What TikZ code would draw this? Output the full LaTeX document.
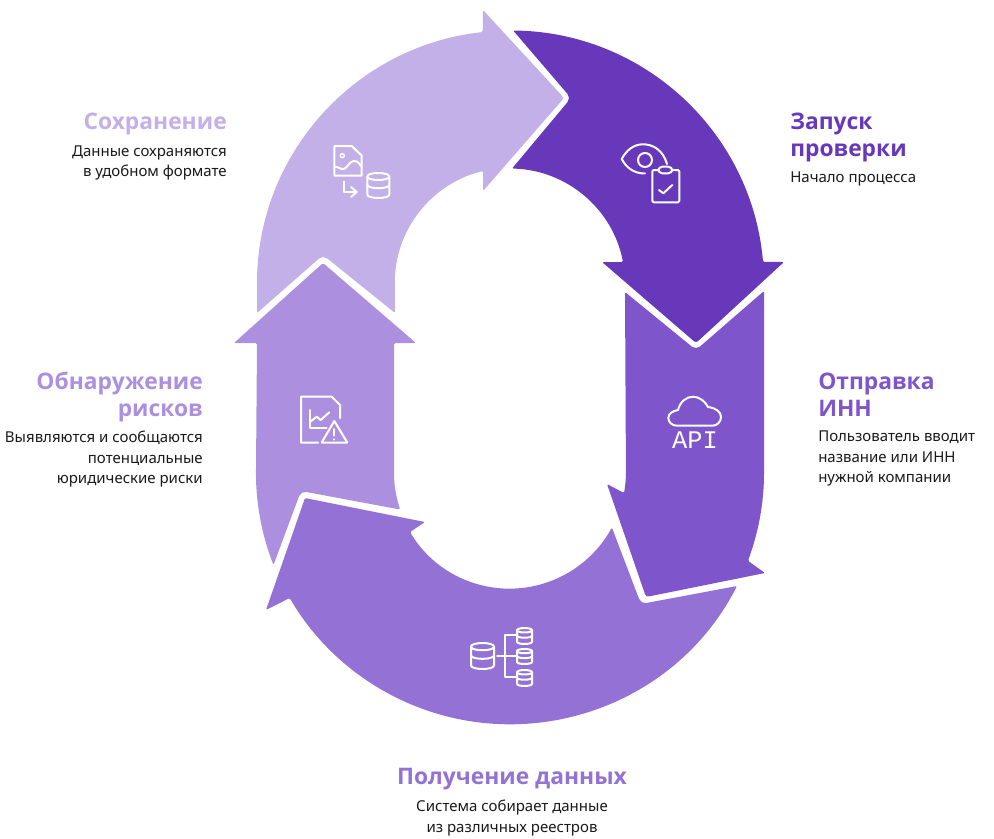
\documentclass[tikz,border=0pt]{standalone}
\usepackage{fontspec}
\setmainfont{Noto Sans}
\newfontfamily\titlefont{Open Sans}[BoldFont={Open Sans Bold}]
\newfontfamily\apifont{Liberation Mono}
\usetikzlibrary{calc}
\definecolor{cSave}{HTML}{C4B0E8}
\definecolor{cRisk}{HTML}{AC90DF}
\definecolor{cFetch}{HTML}{9472D5}
\definecolor{cSend}{HTML}{7E55CB}
\definecolor{cStart}{HTML}{6838BA}
\definecolor{cText}{HTML}{1A1A1A}
% small database barrel: centre x, centre y, half width, half height
\newcommand{\drawdb}[4]{
  \draw[icon] (#1-#3,#2-#4*.72) .. controls (#1-#3,#2-#4*1.09) and (#1+#3,#2-#4*1.09) .. (#1+#3,#2-#4*.72)
    -- (#1+#3,#2+#4*.72) .. controls (#1+#3,#2+#4*1.09) and (#1-#3,#2+#4*1.09) .. (#1-#3,#2+#4*.72) -- cycle;
  \draw[icon] (#1-#3,#2-#4*.72) .. controls (#1-#3,#2-#4*.35) and (#1+#3,#2-#4*.35) .. (#1+#3,#2-#4*.72);
  \draw[icon] (#1-#3,#2-#4*.06) .. controls (#1-#3,#2+#4*.31) and (#1+#3,#2+#4*.31) .. (#1+#3,#2-#4*.06);
}
\tikzset{
	x=0.75pt,y=-0.75pt,
	arrow/.style={fill=#1,rounded corners=1pt},
	icon/.style={draw=white,line width=1.5pt,line join=round,line cap=round},
	title/.style={inner sep=0pt,font=\fontsize{17.1}{20.25}\selectfont\titlefont\bfseries,text=#1},
	info/.style={inner sep=0pt,font=\fontsize{11.25}{15.3}\selectfont,text=cText},
}
\begin{document}
\begin{tikzpicture}
\useasboundingbox (0,0) rectangle (994,838);
\coordinate (up) at (510.5,284);

% arrows
\path[arrow=cSave] (257,313) -- (257,284) arc[start angle=-180,end angle=-96.3,radius=253.5]
  -- (483,10) [rounded corners=2pt] -- (564,98) [rounded corners=1pt] -- (483,191) -- (483,171)
  arc[start angle=-103.7,end angle=-180,radius=115.5] -- (395,313)
  [rounded corners=4pt] -- (323,255) [rounded corners=1pt] -- cycle;
\path[arrow=cStart] ($(up)+(-89.4:253.5)$) arc[start angle=-89.4,end angle=-5,radius=253.5]
  -- (784,262) [rounded corners=2pt] -- (696,343) [rounded corners=1pt] -- (602,262) -- (623,262)
  arc[start angle=-11,end angle=-88.8,radius=115.5]
  [rounded corners=4pt] -- (571,98) [rounded corners=1pt] -- cycle;
\path[arrow=cSend] (625,292) [rounded corners=4pt] -- (696,350) [rounded corners=1pt] -- (764,291) -- (764,472)
  arc[start angle=0,end angle=20.5,radius=253.5] -- (765,573) [rounded corners=2pt] -- (646,597)
  [rounded corners=1pt] -- (607,484) -- (624,493) arc[start angle=10.5,end angle=0,radius=115.5] -- cycle;
\path[arrow=cFetch] (305,498) -- (425,522) -- (410,532)
  arc[start angle=149.2,end angle=28.2,radius=116] [rounded corners=4pt] -- (641,604)
  [rounded corners=1pt] -- (737,586) arc[start angle=26.7,end angle=150.2,x radius=254,y radius=251] -- (266,610) -- cycle;
\path[arrow=cRisk] (323,263) -- (416,343) -- (394,343) -- (394,472)
  arc[start angle=180,end angle=161.2,radius=116.5] [rounded corners=4pt] -- (301,491)
  [rounded corners=1pt] -- (273.5,565) arc[start angle=158.6,end angle=180,radius=254] -- (257,343) -- (234,343) -- cycle;

% icon save
\draw[icon] (334.3,146) -- (351.7,146) -- (361.7,155.5) -- (361.7,175.7) -- (334.3,175.7) -- cycle;
\draw[icon,line width=1.1pt] (342.3,155.7) circle (2);
\draw[icon] (334.3,167) .. controls (338,166) and (341,170) .. (344,169) .. controls (348,167) and (350,161) .. (354,161) .. controls (358,161) and (360,164) .. (361.7,167);
\draw[icon] (344,181.7) -- (344,192) -- (356.7,192);
\draw[icon] (351,187) -- (356.7,192) -- (351,197);
\drawdb{378.3}{185.5}{11}{12.5}

% icon start
\draw[icon] (667,164) .. controls (663,150) and (653,144.3) .. (643,144.3) .. controls (633,144.3) and (626,151) .. (621.7,159)
  .. controls (626,167) and (633,173.5) .. (645,173.5);
\draw[icon] (645,160) circle (7);
\draw[icon,rounded corners=1pt] (658.3,170) -- (652.3,170) -- (652.3,202.3) -- (679.3,202.3) -- (679.3,170) -- (672.3,170);
\draw[icon,rounded corners=3pt] (658.3,166.7) rectangle (672.3,173.3);
\draw[icon] (659,190) -- (663.3,193.3) -- (672.3,185);

% icon send
\draw[icon] (677,425.7) -- (712.5,425.7) .. controls (717,425.7) and (721,422) .. (721,417) .. controls (721,412) and (716,408) .. (708,407)
  .. controls (705,401) and (699,396.7) .. (693,396.7) .. controls (686,396.7) and (680,402) .. (678,410)
  .. controls (672,411) and (668.3,414) .. (668.3,418) .. controls (668.3,422) and (672,425.7) .. (677,425.7) -- cycle;
\node (api) at (695,440.5) [inner sep=0pt,text=white,font=\fontsize{19}{19}\selectfont\apifont] {API};

% icon fetch
\drawdb{482.5}{656}{11.5}{13}
\drawdb{524.5}{636}{7.5}{8}
\drawdb{524.5}{656.5}{7.5}{7.5}
\drawdb{524.5}{678}{7.5}{8}
\draw[icon] (497,655.7) -- (516,655.7);
\draw[icon] (516,635) -- (505,635) -- (505,676.7) -- (516,676.7);

% icon risk
\draw[icon] (318,442.5) -- (301,442.5) -- (301,396.7) -- (331.7,396.7) -- (340,405) -- (340,418);
\draw[icon] (310,410) -- (310,428) -- (326.7,428);
\draw[icon] (310,422) -- (316.7,416.7) -- (320.7,420) -- (329.3,412.3);
\draw[icon] (321.7,442.5) -- (334.3,421) -- (347.3,442.5) -- cycle;
\draw[icon] (334.3,429) -- (334.3,435.5);
\draw[icon] (334.3,439.3) -- (334.3,439.6);

% labels
\node (save) at (227,124) [anchor=east,title=cSave] {Сохранение};
\node (saveinfo) at (227,145.5) [anchor=north east,align=right,info] {Данные сохраняются\\в удобном формате};
\node (start) at (790,113) [anchor=north west,align=left,title=cStart] {Запуск\\проверки};
\node (startinfo) at (790,179) [anchor=west,info] {Начало процесса};
\node (send) at (818,373) [anchor=north west,align=left,title=cSend] {Отправка\\ИНН};
\node (sendinfo) at (818,431) [anchor=north west,align=left,info] {Пользователь вводит\\название или ИНН\\нужной компании};
\node (fetch) at (512,779) [title=cFetch] {Получение данных};
\node (fetchinfo) at (512,800) [anchor=north,align=center,info] {Система собирает данные\\из различных реестров};
\node (risk) at (203,372) [anchor=north east,align=right,title=cRisk] {Обнаружение\\рисков};
\node (riskinfo) at (203,431) [anchor=north east,align=right,info] {Выявляются и сообщаются\\потенциальные\\юридические риски};
\end{tikzpicture}
\end{document}
